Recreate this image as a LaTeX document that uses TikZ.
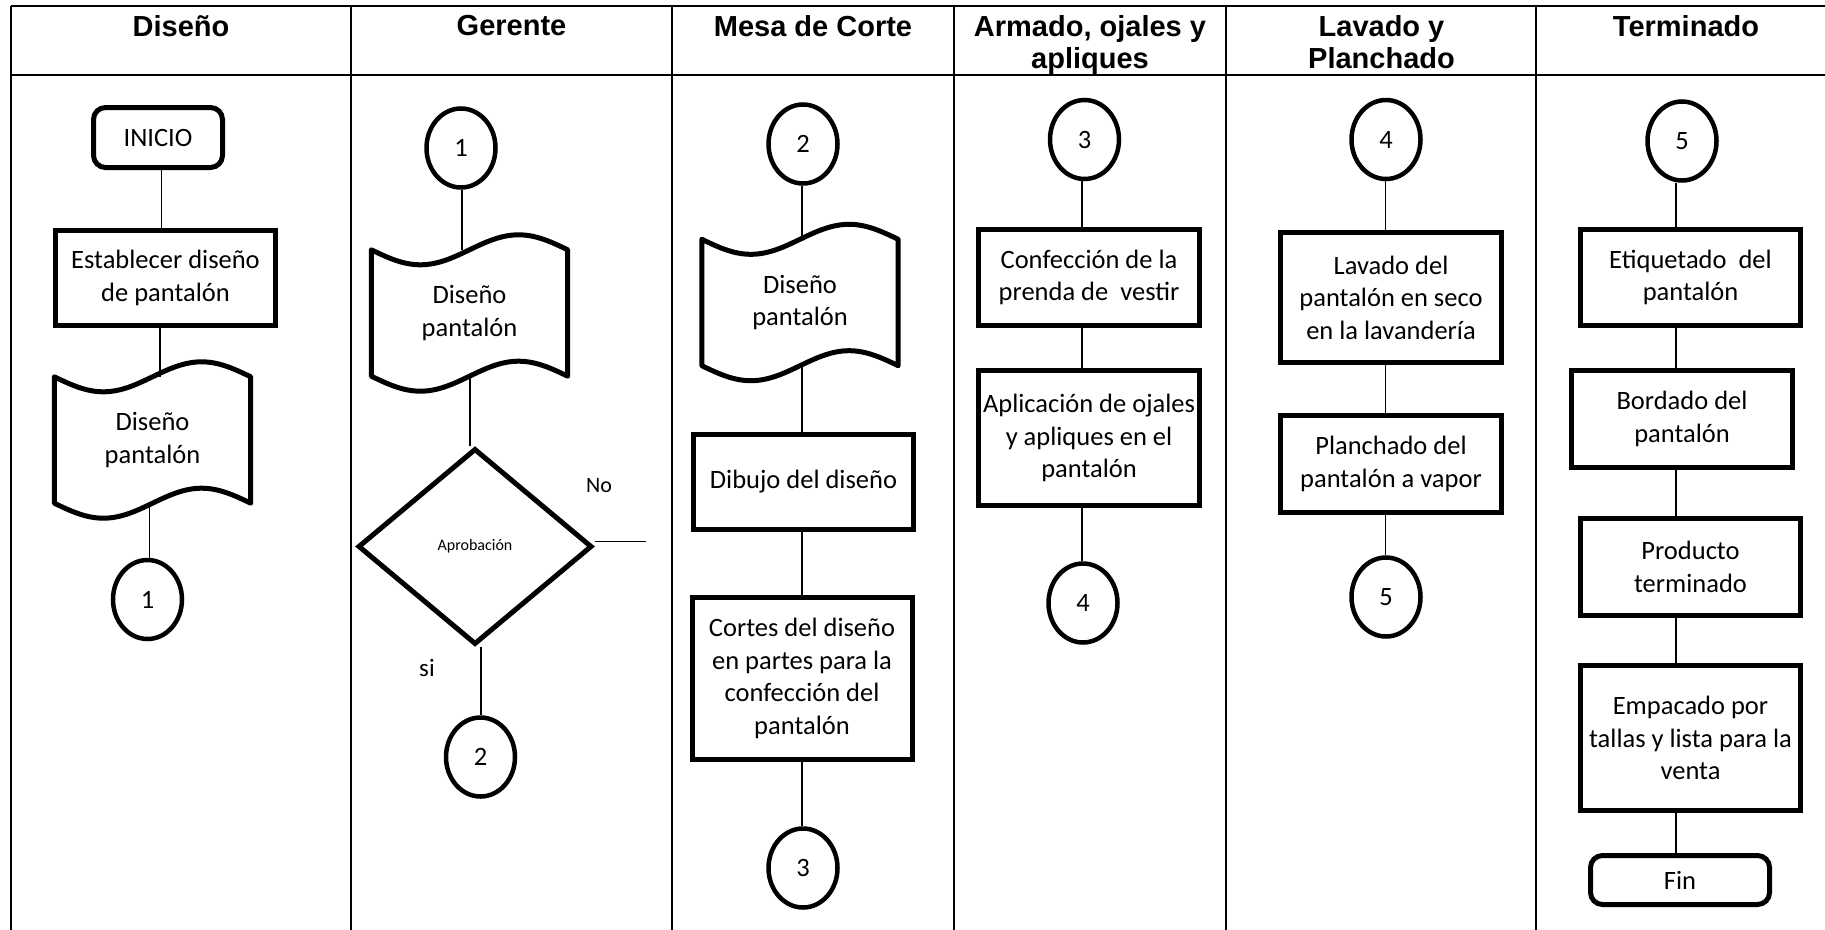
\documentclass[tikz,border=0pt]{standalone}
\usepackage{fontspec}
\setmainfont{Carlito}
\newfontfamily\headfont{Liberation Sans}
\usetikzlibrary{shapes.geometric,calc}

% wave amplitude of the punched-tape document symbol
\newcommand\tapeamp{15}
% wavy outline drawn around a (borderless) document node
\newcommand\tapeoutline[1]{%
  \draw[thickline,line join=round,line cap=round] (#1.north west)
    sin ($(#1.north west)!0.5!(#1.north)+(0,\tapeamp)$)
    cos (#1.north)
    sin ($(#1.north)!0.5!(#1.north east)-(0,\tapeamp)$)
    cos (#1.north east)
    -- (#1.south east)
    sin ($(#1.south east)!0.5!(#1.south)-(0,\tapeamp)$)
    cos (#1.south)
    sin ($(#1.south)!0.5!(#1.south west)+(0,\tapeamp)$)
    cos (#1.south west)
    -- cycle;}

\begin{document}
\begin{tikzpicture}[x=1pt,y=-1pt,
  body/.style={font=\fontsize{26.5}{32.5}\selectfont},
  grid line/.style={line width=2pt},
  head/.style={font=\headfont\bfseries\fontsize{29}{32.5}\selectfont,
    anchor=north,align=center,inner sep=0pt},
  conn/.style={line width=1.8pt},
  thickline/.style={draw,line width=5pt},
  procbox/.style={thickline,rectangle,align=center,inner sep=0pt,body},
  termbox/.style={procbox,rounded corners=12pt},
  pageref/.style={thickline,line width=4.5pt,ellipse,minimum width=69pt,
    minimum height=79pt,inner sep=0pt,body},
  docshape/.style={rectangle,minimum width=196pt,minimum height=126pt,
    align=center,inner sep=0pt,body},
  decision/.style={thickline,diamond,minimum width=234pt,minimum height=196pt,
    inner sep=0pt,font=\fontsize{16}{19}\selectfont},
  tag/.style={font=\fontsize{22}{26}\selectfont,inner sep=0pt}
]
\useasboundingbox (0,0) rectangle (1825,929);
\clip (0,0) rectangle (1825,929);

% swimlane table
\draw[grid line] (11,6) -- (1840,6);
\draw[grid line] (11,75) -- (1840,75);
\foreach \cx in {11,351,672,954,1226,1536,1836}
  \draw[grid line] (\cx,6) -- (\cx,940);

\node[head] (hDis) at (181,15) {Diseño};
\node[head] (hGer) at (511.5,15) {Gerente};
\node[head] (hMes) at (813,15) {Mesa de Corte};
\node[head] (hArm) at (1090,15) {Armado, ojales y\\apliques};
\node[head] (hLav) at (1381.5,15) {Lavado y\\Planchado};
\node[head] (hTer) at (1686,15) {Terminado};

% ---- Diseño
\node[termbox,minimum width=129pt,minimum height=60pt] (ini) at (158,137.5) {INICIO};
\node[procbox,minimum width=220pt,minimum height=95pt] (est) at (165.5,278)
  {Establecer diseño\\de pantalón};
\node[docshape] (doc1) at (152.5,440) {Diseño\\pantalón};
\tapeoutline{doc1}
\node[pageref] (c1a) at (147.5,599.5) {1};

\coordinate (axIni) at (161.5,0);
\coordinate (axEst) at (160,0);
\coordinate (axDoc) at (149.5,0);
\draw[conn] (ini.south -| axIni) -- (est.north -| axIni);
\draw[conn] (est.south -| axEst) -- (doc1.north -| axEst);
\draw[conn] (doc1.south -| axDoc) -- (c1a.north -| axDoc);

% ---- Gerente
\node[pageref] (c1b) at (461,148) {1};
\node[docshape] (doc2) at (469.5,313) {Diseño\\pantalón};
\tapeoutline{doc2}
\node[decision] (dec) at (475,546.5) {Aprobación};
\node[pageref] (c2a) at (480.5,757) {2};
\coordinate (noEnd) at (646,541.5);
\node[tag] (lblNo) at (599,486) {No};
\node[tag,font=\fontsize{25}{29}\selectfont] (lblSi) at (427,668) {si};

\coordinate (axG1) at (462,0);
\coordinate (axG2) at (470,0);
\coordinate (axG3) at (481,0);
\draw[conn] (c1b.south -| axG1) -- (doc2.north -| axG1);
\draw[conn] (doc2.south -| axG2) -- (dec.north -| axG2);
\draw[conn] (dec.south -| axG3) -- (c2a.north -| axG3);
\draw[conn] (dec.east |- noEnd) -- (noEnd);

% ---- Mesa de Corte
\node[pageref] (c2b) at (803,144) {2};
\node[docshape] (doc3) at (800,302.5) {Diseño\\pantalón};
\tapeoutline{doc3}
\node[procbox,minimum width=220pt,minimum height=95pt] (dib) at (803.5,482)
  {Dibujo del diseño};
\node[procbox,minimum width=220pt,minimum height=162pt] (cor) at (802,678.5)
  {Cortes del diseño\\en partes para la\\confección del\\pantalón};
\node[pageref] (c3a) at (803,868) {3};

\coordinate (axM) at (801.6,0);
\draw[conn] (c2b.south -| axM) -- (doc3.north -| axM);
\draw[conn] (doc3.south -| axM) -- (dib.north -| axM);
\draw[conn] (dib.south -| axM) -- (cor.north -| axM);
\draw[conn] (cor.south -| axM) -- (c3a.north -| axM);

% ---- Armado, ojales y apliques
\node[pageref] (c3b) at (1084.5,139.5) {3};
\node[procbox,minimum width=221pt,minimum height=96pt] (conf) at (1089,277.5)
  {Confección de la\\prenda de\ \ vestir};
\node[procbox,minimum width=221pt,minimum height=135pt] (apl) at (1089,438)
  {Aplicación de ojales\\y apliques en el\\pantalón};
\node[pageref] (c4a) at (1083,603) {4};

\coordinate (axA) at (1082,0);
\draw[conn] (c3b.south -| axA) -- (conf.north -| axA);
\draw[conn] (conf.south -| axA) -- (apl.north -| axA);
\draw[conn] (apl.south -| axA) -- (c4a.north -| axA);

% ---- Lavado y Planchado
\node[pageref] (c4b) at (1386,139.5) {4};
\node[procbox,minimum width=221pt,minimum height=130pt] (lav) at (1391,297.5)
  {Lavado del\\pantalón en seco\\en la lavandería};
\node[procbox,minimum width=221pt,minimum height=97pt] (pla) at (1391,464)
  {Planchado del\\pantalón a vapor};
\node[pageref] (c5a) at (1386,597) {5};

\coordinate (axL) at (1385.5,0);
\draw[conn] (c4b.south -| axL) -- (lav.north -| axL);
\draw[conn] (lav.south -| axL) -- (pla.north -| axL);
\draw[conn] (pla.south -| axL) -- (c5a.north -| axL);

% ---- Terminado
\node[pageref] (c5b) at (1682,141) {5};
\node[procbox,minimum width=220pt,minimum height=96pt] (etq) at (1690.5,277.5)
  {Etiquetado\ \ del\\pantalón};
\node[procbox,minimum width=221pt,minimum height=97pt] (bor) at (1682,419)
  {Bordado del\\pantalón};
\node[procbox,minimum width=220pt,minimum height=97pt] (pro) at (1690.5,567)
  {Producto\\terminado};
\node[procbox,minimum width=220pt,minimum height=145pt] (emp) at (1690.5,738)
  {Empacado por\\tallas y lista para la\\venta};
\node[termbox,minimum width=179pt,minimum height=49pt] (fin) at (1680,880) {Fin};

\coordinate (axT) at (1676,0);
\draw[conn] (c5b.south -| axT) -- (etq.north -| axT);
\draw[conn] (etq.south -| axT) -- (bor.north -| axT);
\draw[conn] (bor.south -| axT) -- (pro.north -| axT);
\draw[conn] (pro.south -| axT) -- (emp.north -| axT);
\draw[conn] (emp.south -| axT) -- (fin.north -| axT);
\end{tikzpicture}
\end{document}
